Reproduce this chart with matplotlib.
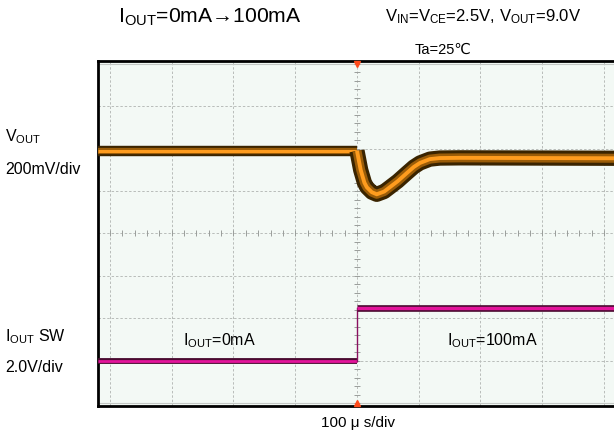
import numpy as np
import matplotlib.pyplot as plt

plt.rcParams['font.family'] = ['Liberation Sans', 'DejaVu Sans', 'Noto Sans CJK JP']
plt.rcParams['mathtext.fontset'] = 'custom'
plt.rcParams['mathtext.rm'] = 'Liberation Sans'

# time in microseconds (load step at t = 0)
vout_t = [-420, 0, 6, 12, 16, 24, 32, 44, 53, 66, 81, 92, 102, 118, 134, 167, 300, 420]
# VOUT deviation from 9.0V in mV
vout_mv = [0, 0, -90, -150, -172, -195, -205, -192, -172, -143, -104, -76, -57, -39, -34, -33, -34, -35]

# IOUT switch signal in volts
isw_t = [-420, 0, 0, 420]
isw_v = [0.0, 0.0, 2.5, 2.5]

# screen offsets (divisions) and scales
vout_pos = 1.95
vout_scale = 200.0  # mV/div
isw_pos = -3.0
isw_scale = 2.0  # V/div

W, H = 614, 444
fig = plt.figure(figsize=(W / 100, H / 100), dpi=100)
ax = fig.add_axes([98 / W, (H - 406) / H, (614 - 98) / W, (406 - 61) / H])
ax.set_facecolor('#f3f9f5')
ax.set_xlim(-419.4, 416.2)
ax.set_ylim(-4.07, 4.07)
ax.set_xticks([])
ax.set_yticks([])
for s in ['top', 'left', 'bottom']:
    ax.spines[s].set_linewidth(2.0)
ax.spines['right'].set_visible(False)

# graticule
gc = '#b9bdba'
for x in range(-400, 401, 100):
    ax.axvline(x, color=gc, lw=0.7, ls=(0, (2.5, 2)), zorder=1)
for y in range(-3, 4):
    ax.axhline(y, color=gc, lw=0.7, ls=(0, (2.5, 2)), zorder=1)
ax.axhline(4.0, color='#c4c8c5', lw=0.8, zorder=1)
ax.axhline(-4.0, color='#c4c8c5', lw=0.8, zorder=1)
tx = np.arange(-400, 401, 20)
ax.plot(tx, np.zeros_like(tx), ls='none', marker='|', ms=4, mew=0.7, color='#9a9e9b', zorder=1)
ty = np.arange(-4, 4.01, 0.2)
ax.plot(np.zeros_like(ty), ty, ls='none', marker='_', ms=4, mew=0.7, color='#9a9e9b', zorder=1)

# trigger markers
ax.plot([0], [4.0], marker='v', ms=4, color='#ff4a1a', clip_on=False, zorder=5)
ax.plot([0], [-4.0], marker='^', ms=4, color='#ff4a1a', clip_on=False, zorder=5)

# VOUT trace
vt = np.array(vout_t)
vy = vout_pos + np.array(vout_mv) / vout_scale
pre = vt <= 0
ax.plot(vt[pre], vy[pre], color='#3a2400', lw=7.5, solid_capstyle='butt', zorder=3)
ax.plot(vt[pre], vy[pre], color='#9a5c08', lw=4.5, solid_capstyle='butt', zorder=3)
ax.plot(vt[pre], vy[pre], color='#ff9c1e', lw=2.2, solid_capstyle='butt', zorder=3)
post = vt >= 0
ax.plot(vt[post], vy[post], color='#3a2400', lw=11, solid_capstyle='butt', zorder=3)
ax.plot(vt[post], vy[post], color='#9a5c08', lw=6.5, solid_capstyle='butt', zorder=3)
ax.plot(vt[post], vy[post], color='#ff9c1e', lw=2.8, solid_capstyle='butt', zorder=3)

# IOUT SW trace
it = np.array(isw_t)
iy = isw_pos + np.array(isw_v) / isw_scale
ax.plot(it[:2], iy[:2], color='#4a0a30', lw=4.2, solid_capstyle='butt', zorder=3)
ax.plot(it[:2], iy[:2], color='#e3149b', lw=2.0, solid_capstyle='butt', zorder=3)
ax.plot(it[1:3], iy[1:3], color='#8a1060', lw=1.0, zorder=3)
ax.plot(it[2:], iy[2:], color='#4a0a30', lw=4.8, solid_capstyle='butt', zorder=3)
ax.plot(it[2:], iy[2:], color='#e3149b', lw=2.4, solid_capstyle='butt', zorder=3)


def ftext(x, y, s, size, ha='left'):
    fig.text(x / W, 1 - y / H, s, fontsize=size, ha=ha, va='center')


ftext(118, 17, r'$\mathregular{I_{OUT}}$=0mA→100mA', 15.2)
ftext(385, 17, r'$\mathregular{V_{IN}}$=$\mathregular{V_{CE}}$=2.5V, $\mathregular{V_{OUT}}$=9.0V', 12)
ftext(415, 50, 'Ta=25℃', 10.5)
ftext(5, 137, r'$\mathregular{V_{OUT}}$', 11.5)
ftext(5, 169, '200mV/div', 11.5)
ftext(5, 337, r'$\mathregular{I_{OUT}}$ SW', 11.5)
ftext(5, 368, '2.0V/div', 11.5)
ftext(183, 341, r'$\mathregular{I_{OUT}}$=0mA', 11.5)
ftext(447, 341, r'$\mathregular{I_{OUT}}$=100mA', 11.5)
ftext(358, 423, '100 μ s/div', 11, ha='center')

fig.savefig('out.png', dpi=100)
